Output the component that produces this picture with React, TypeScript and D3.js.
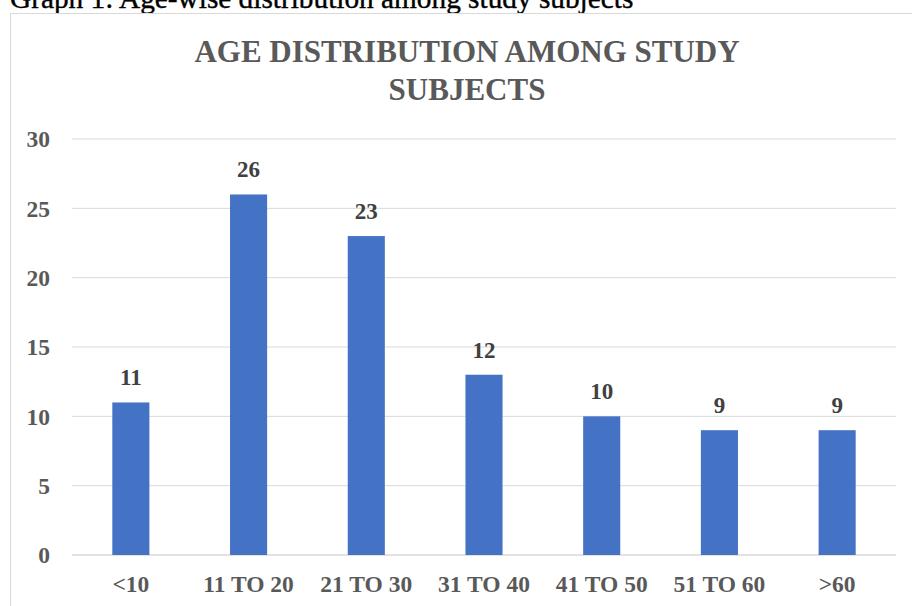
import React from 'react';
import * as d3 from 'd3';

const categories = ['<10', '11 TO 20', '21 TO 30', '31 TO 40', '41 TO 50', '51 TO 60', '>60'];
const counts = [11, 26, 23, 13, 10, 9, 9];
// the printed labels (the 31 TO 40 bar is drawn at 13 but labelled 12)
const valueLabels = ['11', '26', '23', '12', '10', '9', '9'];
const yTicks = [0, 5, 10, 15, 20, 25, 30];

const W = 912;
const H = 606;
const font = '"Liberation Serif", "Times New Roman", serif';

const App = () => {
  const left = 72;
  const right = 896;
  const top = 139;
  const bottom = 555;

  const x = d3.scaleBand().domain(categories).range([left, right]).padding(0);
  const y = d3.scaleLinear().domain([0, 30]).range([bottom, top]);
  const barW = x.bandwidth() * 0.315;

  return (
    <svg width={W} height={H} style={{ position: 'absolute', left: 0, top: 0, background: '#fff' }}>
      <text x={10} y={8} fontFamily={font} fontSize={29.3} fill="#000" stroke="#000" strokeWidth={0.4}>
        Graph 1: Age-wise distribution among study subjects
      </text>
      <rect x={10.5} y={13.5} width={W + 10} height={H + 10} fill="#fff" stroke="#d9d9d9" strokeWidth={1} />

      <text x={467} y={62} textAnchor="middle" fontFamily={font} fontWeight="bold" fontSize={31} fill="#595959">
        AGE DISTRIBUTION AMONG STUDY
      </text>
      <text x={467} y={100} textAnchor="middle" fontFamily={font} fontWeight="bold" fontSize={31} fill="#595959">
        SUBJECTS
      </text>

      {yTicks.map((t) => (
        <g key={t}>
          <line x1={left} x2={right} y1={y(t)} y2={y(t)} stroke="#d9d9d9" strokeWidth={t === 0 ? 1.5 : 1} />
          <text x={50} y={y(t)} dy="0.35em" textAnchor="end" fontFamily={font} fontWeight="bold" fontSize={23.5} fill="#595959">
            {t}
          </text>
        </g>
      ))}

      {categories.map((c, i) => {
        const cx = (x(c) as number) + x.bandwidth() / 2;
        return (
          <g key={c}>
            <rect x={cx - barW / 2} y={y(counts[i])} width={barW} height={bottom - y(counts[i])} fill="#4472c4" />
            <text x={cx} y={y(counts[i]) - 17} textAnchor="middle" fontFamily={font} fontWeight="bold" fontSize={23} fill="#404040">
              {valueLabels[i]}
            </text>
            <text x={cx} y={592} textAnchor="middle" fontFamily={font} fontWeight="bold" fontSize={23.5} fill="#595959">
              {c}
            </text>
          </g>
        );
      })}
    </svg>
  );
};

export default App;
